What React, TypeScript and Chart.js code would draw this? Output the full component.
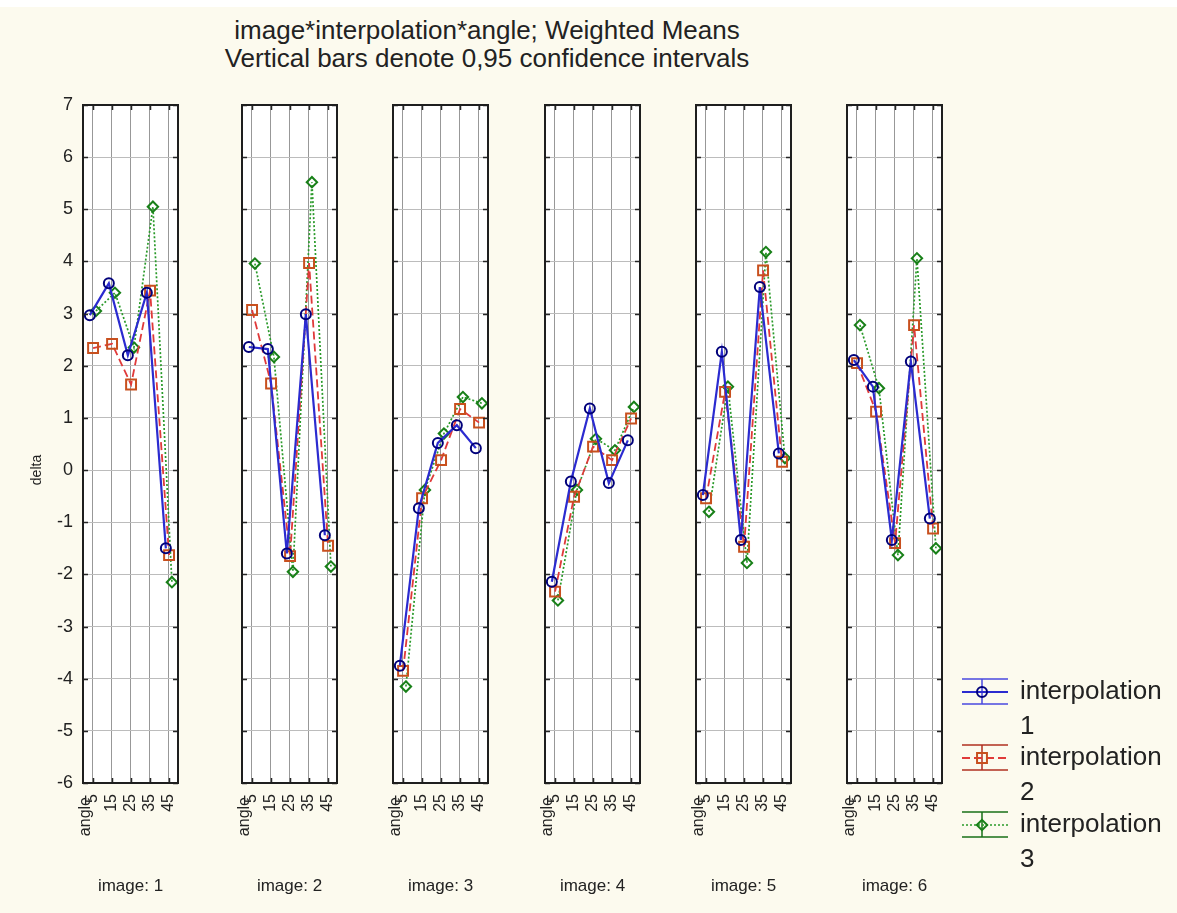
import React, { useEffect, useRef } from 'react';
import { Chart, registerables } from 'chart.js';

Chart.register(...registerables);

// ---------------- data ----------------
const TITLE_LINES = [
  'image*interpolation*angle; Weighted Means',
  'Vertical bars denote 0,95 confidence intervals',
];
const X_NAME = 'angle';
const Y_NAME = 'delta';
const ANGLES = ['5', '15', '25', '35', '45'];
const IMAGES = ['1', '2', '3', '4', '5', '6'];
const SERIES_NAMES = ['interpolation 1', 'interpolation 2', 'interpolation 3'];
const Y_MIN = -6;
const Y_MAX = 7;

// one row per image, one value per angle
const INTERPOLATION_1 = [
  [2.97, 3.58, 2.2, 3.4, -1.5],
  [2.36, 2.32, -1.6, 2.99, -1.25],
  [-3.75, -0.73, 0.52, 0.86, 0.42],
  [-2.14, -0.22, 1.18, -0.25, 0.57],
  [-0.48, 2.27, -1.34, 3.51, 0.32],
  [2.11, 1.6, -1.34, 2.08, -0.93],
];
const INTERPOLATION_2 = [
  [2.34, 2.42, 1.64, 3.44, -1.63],
  [3.07, 1.66, -1.65, 3.97, -1.45],
  [-3.85, -0.54, 0.19, 1.17, 0.91],
  [-2.33, -0.51, 0.45, 0.19, 0.99],
  [-0.54, 1.5, -1.47, 3.83, 0.16],
  [2.05, 1.12, -1.4, 2.78, -1.12],
];
const INTERPOLATION_3 = [
  [3.05, 3.4, 2.35, 5.05, -2.15],
  [3.96, 2.17, -1.95, 5.52, -1.85],
  [-4.15, -0.38, 0.7, 1.4, 1.28],
  [-2.5, -0.38, 0.6, 0.38, 1.21],
  [-0.8, 1.6, -1.78, 4.18, 0.23],
  [2.78, 1.57, -1.63, 4.06, -1.5],
];
const SERIES = [INTERPOLATION_1, INTERPOLATION_2, INTERPOLATION_3];

// ---------------- layout / style ----------------
const FONT = '"Liberation Sans", Arial, Helvetica, sans-serif';
const PAGE_W = 1177;
const PAGE_H = 913;
const BG = '#FCFAEE';
const PANEL_LEFT = [83, 242, 393, 545, 696, 847];
const PANEL_W = 95;
const CANVAS_TOP = 95;
const PLOT_TOP_PAD = 10;
const X_AXIS_H = 130;
const SIDE_PAD = 10;
const DODGE = [-0.14, 0.03, 0.18];
const DELTA_POS = { x: 37, y: 470 };
const LEGEND = { x: 962, y: [692, 758, 825], textX: 1020, lineGap: 35 };

const STYLES = [
  { line: '#2b2bd0', point: '#00007a', cap: '#4a4ae0', dash: [] as number[], pointStyle: 'circle', radius: 5, width: 2.2 },
  { line: '#e03a3a', point: '#c8501e', cap: '#b03020', dash: [8, 4], pointStyle: 'rect', radius: 7, width: 1.8 },
  { line: '#2a9a2a', point: '#188018', cap: '#187018', dash: [2, 2], pointStyle: 'rectRot', radius: 5.2, width: 1.7 },
];

Chart.defaults.font.family = FONT;

function drawMarker(ctx: CanvasRenderingContext2D, style: string, x: number, y: number, r: number) {
  ctx.beginPath();
  if (style === 'circle') {
    ctx.arc(x, y, r, 0, Math.PI * 2);
  } else if (style === 'rect') {
    const h = r * Math.SQRT1_2;
    ctx.rect(x - h, y - h, 2 * h, 2 * h);
  } else {
    ctx.moveTo(x - r, y);
    ctx.lineTo(x, y - r);
    ctx.lineTo(x + r, y);
    ctx.lineTo(x, y + r);
    ctx.closePath();
  }
  ctx.stroke();
}

function Panel({ index }: { index: number }) {
  const ref = useRef<HTMLCanvasElement>(null);
  const isFirst = index === 0;
  const isLast = index === IMAGES.length - 1;
  const plotLeft = PANEL_LEFT[index];
  const plotRight = plotLeft + PANEL_W;
  const canvasLeft = isFirst ? 0 : plotLeft - SIDE_PAD;
  const canvasRight = isLast ? PAGE_W : plotRight + SIDE_PAD;
  const width = canvasRight - canvasLeft;
  const height = PAGE_H - CANVAS_TOP;

  useEffect(() => {
    const canvas = ref.current;
    if (!canvas) return;

    const decor = {
      id: 'decor',
      beforeDraw(chart: any) {
        const { ctx, chartArea: a } = chart;
        ctx.save();
        ctx.fillStyle = '#ffffff';
        ctx.fillRect(a.left, a.top, a.right - a.left, a.bottom - a.top);
        ctx.restore();
      },
      afterDraw(chart: any) {
        const { ctx, chartArea: a, scales } = chart;
        ctx.save();
        // inner tick marks on all four sides
        ctx.strokeStyle = '#262626';
        ctx.lineWidth = 1.5;
        ctx.beginPath();
        scales.y.ticks.forEach((t: any) => {
          const py = Math.round(scales.y.getPixelForValue(t.value)) + 0.5;
          ctx.moveTo(a.left, py);
          ctx.lineTo(a.left + 5, py);
          ctx.moveTo(a.right - 5, py);
          ctx.lineTo(a.right, py);
        });
        scales.x.ticks.forEach((t: any) => {
          const px = Math.round(scales.x.getPixelForValue(t.value)) + 0.5;
          ctx.moveTo(px, a.top);
          ctx.lineTo(px, a.top + 5);
          ctx.moveTo(px, a.bottom - 5);
          ctx.lineTo(px, a.bottom);
        });
        ctx.stroke();
        // frame
        ctx.lineWidth = 2;
        ctx.strokeStyle = '#1e1e1e';
        ctx.strokeRect(a.left, a.top, a.right - a.left, a.bottom - a.top);
        // x variable name, rotated like the tick labels
        ctx.fillStyle = '#222';
        ctx.font = `16px ${FONT}`;
        ctx.translate(a.left + 3, a.bottom + 14);
        ctx.rotate(-Math.PI / 2);
        ctx.textAlign = 'right';
        ctx.textBaseline = 'middle';
        ctx.fillText(X_NAME, 0, 0);
        ctx.restore();

        if (isFirst) {
          ctx.save();
          ctx.fillStyle = '#222';
          ctx.font = `14px ${FONT}`;
          ctx.translate(DELTA_POS.x - canvasLeft, DELTA_POS.y - CANVAS_TOP);
          ctx.rotate(-Math.PI / 2);
          ctx.textAlign = 'center';
          ctx.textBaseline = 'middle';
          ctx.fillText(Y_NAME, 0, 0);
          ctx.restore();
        }

        if (isLast) {
          ctx.save();
          SERIES_NAMES.forEach((name, s) => {
            const st = STYLES[s];
            const x0 = LEGEND.x - canvasLeft;
            const yc = LEGEND.y[s] - CANVAS_TOP;
            const mx = x0 + 20;
            ctx.setLineDash([]);
            ctx.lineWidth = 1.5;
            ctx.strokeStyle = st.cap;
            ctx.beginPath();
            ctx.moveTo(x0, yc - 13);
            ctx.lineTo(x0 + 46, yc - 13);
            ctx.moveTo(x0, yc + 12);
            ctx.lineTo(x0 + 46, yc + 12);
            ctx.moveTo(mx, yc - 13);
            ctx.lineTo(mx, yc + 12);
            ctx.stroke();
            ctx.strokeStyle = st.line;
            ctx.lineWidth = st.width;
            ctx.setLineDash(st.dash);
            ctx.beginPath();
            ctx.moveTo(x0, yc);
            ctx.lineTo(x0 + 46, yc);
            ctx.stroke();
            ctx.setLineDash([]);
            ctx.lineWidth = 2;
            ctx.strokeStyle = st.point;
            ctx.fillStyle = '#ffffff';
            drawMarker(ctx, st.pointStyle, mx, yc, st.radius);
            const words = name.split(' ');
            ctx.fillStyle = '#222';
            ctx.font = `26px ${FONT}`;
            ctx.textAlign = 'left';
            ctx.textBaseline = 'middle';
            ctx.fillText(words[0], LEGEND.textX - canvasLeft, yc);
            ctx.fillText(words.slice(1).join(' '), LEGEND.textX - canvasLeft, yc + LEGEND.lineGap);
          });
          ctx.restore();
        }
      },
    };

    const datasets = SERIES.map((series, s) => {
      const st = STYLES[s];
      return {
        label: SERIES_NAMES[s],
        data: series[index].map((v, k) => ({ x: k + DODGE[s], y: v })),
        borderColor: st.line,
        borderWidth: st.width,
        borderDash: st.dash,
        pointStyle: st.pointStyle,
        pointRadius: st.radius,
        pointBorderColor: st.point,
        pointBorderWidth: 2,
        pointBackgroundColor: 'rgba(255,255,255,0)',
        tension: 0,
        fill: false,
      };
    });

    const chart = new Chart(canvas, {
      type: 'line',
      data: { datasets } as any,
      plugins: [decor],
      options: {
        animation: false,
        responsive: false,
        events: [],
        layout: {
          padding: {
            top: PLOT_TOP_PAD,
            bottom: 0,
            left: isFirst ? 0 : plotLeft - canvasLeft,
            right: canvasRight - plotRight,
          },
        },
        plugins: {
          legend: { display: false },
          tooltip: { enabled: false },
          title: { display: false },
        },
        scales: {
          x: {
            type: 'linear',
            min: -0.5,
            max: ANGLES.length - 0.5,
            afterBuildTicks: (sc: any) => {
              sc.ticks = ANGLES.map((_, k) => ({ value: k }));
            },
            afterFit: (sc: any) => {
              sc.height = X_AXIS_H;
              sc.paddingLeft = 0;
              sc.paddingRight = 0;
            },
            border: { display: false },
            grid: { color: '#989898', lineWidth: 1, drawTicks: false },
            ticks: {
              autoSkip: false,
              minRotation: 90,
              maxRotation: 90,
              padding: 11,
              color: '#222',
              font: { size: 16 },
              callback: (v: any) => ANGLES[Math.round(Number(v))],
            },
            title: {
              display: true,
              text: `image: ${IMAGES[index]}`,
              color: '#222',
              font: { size: 17 },
              padding: { top: 0, bottom: 16 },
            },
          },
          y: {
            min: Y_MIN,
            max: Y_MAX,
            afterFit: (sc: any) => {
              sc.width = isFirst ? plotLeft : 0;
              sc.paddingTop = 0;
              sc.paddingBottom = 0;
            },
            border: { display: false },
            grid: { color: '#bcbcbc', lineWidth: 1, drawTicks: false },
            ticks: {
              display: isFirst,
              stepSize: 1,
              padding: 10,
              color: '#222',
              font: { size: 18 },
            },
          },
        },
      } as any,
    });
    return () => chart.destroy();
  }, [index]);

  return (
    <canvas
      ref={ref}
      width={width}
      height={height}
      style={{ position: 'absolute', left: canvasLeft, top: CANVAS_TOP, width, height, display: 'block' }}
    />
  );
}

export default function App() {
  useEffect(() => {
    document.body.style.margin = '0';
    document.body.style.overflow = 'hidden';
  }, []);
  return (
    <div
      style={{
        position: 'absolute',
        left: 0,
        top: 0,
        width: PAGE_W,
        height: PAGE_H,
        background: BG,
        overflow: 'hidden',
        fontFamily: FONT,
      }}
    >
      <div style={{ position: 'absolute', left: 0, top: 0, width: PAGE_W, height: 7, background: '#ffffff' }} />
      {TITLE_LINES.map((t, i) => (
        <div
          key={i}
          style={{
            position: 'absolute',
            left: 0,
            width: 974,
            top: 16 + i * 28,
            height: 28,
            lineHeight: '28px',
            textAlign: 'center',
            fontSize: 26,
            color: '#222',
            whiteSpace: 'nowrap',
          }}
        >
          {t}
        </div>
      ))}
      {IMAGES.map((_, i) => (
        <Panel key={i} index={i} />
      ))}
    </div>
  );
}
